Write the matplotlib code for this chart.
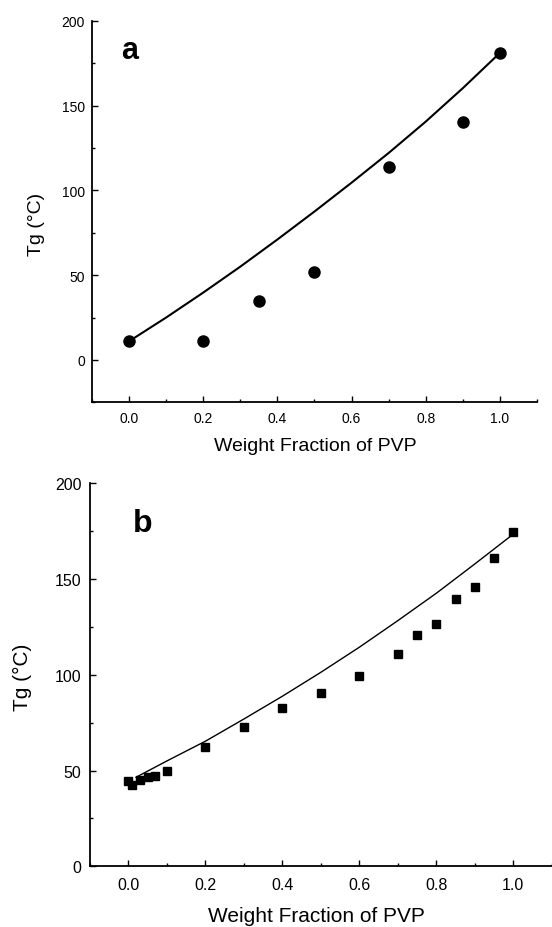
import numpy as np
import matplotlib.pyplot as plt
from matplotlib.ticker import MultipleLocator

plt.rcParams['font.family'] = ['Liberation Sans', 'DejaVu Sans']

frac_a = [0.0, 0.2, 0.35, 0.5, 0.7, 0.9, 1.0]
tg_a = [11, 11, 34.5, 52, 113.5, 140.5, 181]
fit_x_a = [0.0, 0.1, 0.2, 0.3, 0.4, 0.5, 0.6, 0.7, 0.8, 0.9, 1.0]
fit_y_a = [11, 25, 39.7, 55, 71, 87.5, 104.5, 122, 140.5, 160.2, 181]

# panel b
frac_b = [0.0, 0.01, 0.03, 0.05, 0.07, 0.1, 0.2, 0.3, 0.4, 0.5,
          0.6, 0.7, 0.75, 0.8, 0.85, 0.9, 0.95, 1.0]
tg_b = [44.7, 42.6, 45.3, 46.8, 47.3, 49.6, 62.1, 72.6, 82.9, 90.5,
        99.2, 111, 121, 126.7, 139.6, 146, 161.2, 174.4]
fit_x_b = [0.02, 0.1, 0.2, 0.3, 0.4, 0.5, 0.6, 0.7, 0.8, 0.9, 1.0]
fit_y_b = [46.5, 55, 65.3, 76.9, 88.8, 101.3, 114.4, 128.3, 142.6, 157.9, 173.5]

fig = plt.figure(figsize=(5.52, 9.28), dpi=100)
ax1 = fig.add_axes([0.1667, 0.5654, 0.806, 0.4112])
ax2 = fig.add_axes([0.1627, 0.0654, 0.837, 0.4127])


def style_axes(ax, ylim, tick_size, xpad, ypad):
    ax.set_xlim(-0.1, 1.1)
    ax.set_ylim(*ylim)
    ax.spines['top'].set_visible(False)
    ax.spines['right'].set_visible(False)
    ax.spines['left'].set_linewidth(1.3)
    ax.spines['bottom'].set_linewidth(1.3)
    ax.xaxis.set_major_locator(MultipleLocator(0.2))
    ax.xaxis.set_minor_locator(MultipleLocator(0.1))
    ax.yaxis.set_major_locator(MultipleLocator(50))
    ax.yaxis.set_minor_locator(MultipleLocator(25))
    ax.set_xticks([0.0, 0.2, 0.4, 0.6, 0.8, 1.0])
    ax.set_xticklabels(['0.0', '0.2', '0.4', '0.6', '0.8', '1.0'])
    ax.tick_params(which='major', direction='in', length=4, width=1,
                   labelsize=tick_size)
    ax.tick_params(which='minor', direction='in', length=2.5, width=1)
    ax.tick_params(axis='x', which='major', pad=xpad)
    ax.tick_params(axis='y', which='major', pad=ypad)


# --- panel a ---
ax1.plot(fit_x_a, fit_y_a, color='black', lw=1.5)
ax1.plot(frac_a, tg_a, 'o', color='black', ms=8)
style_axes(ax1, (-25, 200), 10, 6, 5)
ax1.set_yticks([0, 50, 100, 150, 200])
ax1.set_xlabel('Weight Fraction of PVP', fontsize=14)
ax1.set_ylabel('Tg (°C)', fontsize=14)
ax1.xaxis.set_label_coords(0.503, -0.09)
ax1.yaxis.set_label_coords(-0.106, 0.47)
ax1.text(-0.022, 178, 'a', fontsize=22, fontweight='bold')

# --- panel b ---
ax2.plot(fit_x_b, fit_y_b, color='black', lw=1.0)
ax2.plot(frac_b, tg_b, 's', color='black', ms=5.5)
style_axes(ax2, (0, 200), 11.5, 8, 6)
ax2.set_yticks([0, 50, 100, 150, 200])
ax2.set_xlabel('Weight Fraction of PVP', fontsize=15)
ax2.set_ylabel('Tg (°C)', fontsize=15)
ax2.xaxis.set_label_coords(0.49, -0.104)
ax2.yaxis.set_label_coords(-0.125, 0.496)
ax2.text(0.012, 175, 'b', fontsize=23, fontweight='bold')

fig.savefig('out.png', dpi=100)
